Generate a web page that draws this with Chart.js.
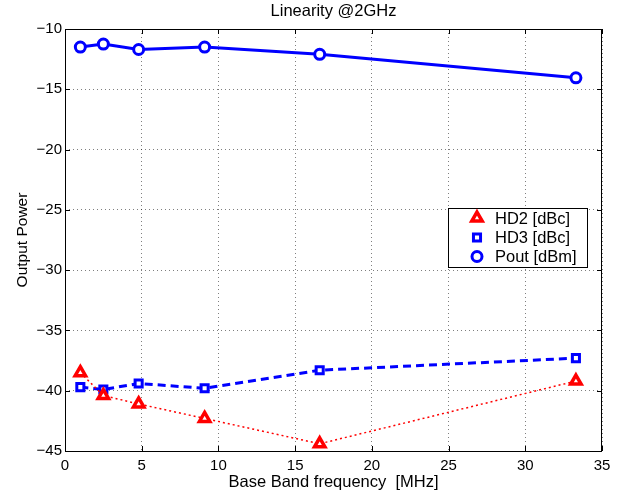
<!DOCTYPE html>
<html>
<head>
<meta charset="utf-8">
<script src="https://cdn.jsdelivr.net/npm/chart.js@4/dist/chart.umd.min.js"></script>
<style>
  html, body { margin: 0; padding: 0; background: #fff; }
  #wrap { width: 629px; height: 497px; }
</style>
</head>
<body>
<div id="wrap"><canvas id="chart" width="629" height="497"></canvas></div>
<script>
const freq = [1, 2.5, 4.8, 9.1, 16.6, 33.3];
const hd2 = [-38.5, -40.4, -41.1, -42.3, -44.4, -39.2];
const hd3 = [-39.7, -39.9, -39.4, -39.8, -38.3, -37.3];
const pout = [-11.5, -11.25, -11.7, -11.5, -12.1, -14.05];
const seriesNames = ['HD2 [dBc]', 'HD3 [dBc]', 'Pout [dBm]'];

const FONT = '"Liberation Sans", Arial, Helvetica, sans-serif';

const pts = (ys) => freq.map((x, i) => ({ x: x, y: ys[i] }));
const minus = (v) => String(v).replace('-', '\u2212');

// frame, inner ticks and the boxed legend (MATLAB style)
const matlabBits = {
  id: 'matlabBits',
  afterDraw(chart) {
    const { ctx, chartArea: a, scales } = chart;
    ctx.save();
    ctx.strokeStyle = '#000';
    ctx.lineWidth = 1;
    ctx.setLineDash([]);
    ctx.strokeRect(a.left + 0.5, a.top + 0.5, a.right - a.left - 1, a.bottom - a.top);
    const tl = 5;
    ctx.beginPath();
    scales.x.ticks.forEach((t) => {
      const px = Math.round(scales.x.getPixelForValue(t.value)) + 0.5;
      ctx.moveTo(px, a.bottom); ctx.lineTo(px, a.bottom - tl);
      ctx.moveTo(px, a.top); ctx.lineTo(px, a.top + tl);
    });
    scales.y.ticks.forEach((t) => {
      const py = Math.round(scales.y.getPixelForValue(t.value)) + 0.5;
      ctx.moveTo(a.left, py); ctx.lineTo(a.left + tl, py);
      ctx.moveTo(a.right, py); ctx.lineTo(a.right - tl, py);
    });
    ctx.stroke();

    // legend
    const bx = 448, by = 208, bw = 139, bh = 59;
    ctx.fillStyle = '#fff';
    ctx.fillRect(bx, by, bw, bh);
    ctx.strokeRect(bx + 0.5, by + 0.5, bw, bh);
    const rowY = [218, 237.5, 256.5];
    chart.data.datasets.forEach((ds, i) => {
      ctx.fillStyle = ds.pointBackgroundColor;
      ctx.strokeStyle = ds.pointBorderColor;
      ctx.lineWidth = ds.pointBorderWidth;
      Chart.helpers.drawPoint(ctx, {
        pointStyle: ds.pointStyle,
        radius: ds.pointRadius,
        rotation: 0,
        borderWidth: ds.pointBorderWidth
      }, 477, rowY[i]);
      ctx.fillStyle = '#000';
      ctx.font = '16.5px ' + FONT;
      ctx.textBaseline = 'middle';
      ctx.textAlign = 'left';
      ctx.fillText(ds.label, 495, rowY[i] + 1);
    });
    ctx.restore();
  }
};

new Chart(document.getElementById('chart'), {
  type: 'scatter',
  data: {
    datasets: [
      {
        label: seriesNames[0],
        data: pts(hd2),
        showLine: true,
        borderColor: '#ff0000',
        borderWidth: 1.5,
        borderDash: [2, 3],
        pointStyle: 'triangle',
        pointRadius: 6,
        pointBorderWidth: 3.5,
        pointBackgroundColor: '#ffffff',
        pointBorderColor: '#ff0000'
      },
      {
        label: seriesNames[1],
        data: pts(hd3),
        showLine: true,
        borderColor: '#0000ff',
        borderWidth: 3,
        borderDash: [8, 5],
        pointStyle: 'rect',
        pointRadius: 5,
        pointBorderWidth: 3,
        pointBackgroundColor: '#ffffff',
        pointBorderColor: '#0000ff'
      },
      {
        label: seriesNames[2],
        data: pts(pout),
        showLine: true,
        borderColor: '#0000ff',
        borderWidth: 3,
        pointStyle: 'circle',
        pointRadius: 5,
        pointBorderWidth: 3,
        pointBackgroundColor: '#ffffff',
        pointBorderColor: '#0000ff'
      }
    ]
  },
  options: {
    responsive: false,
    animation: false,
    layout: { padding: { top: 0, right: 27, bottom: 0, left: 0 } },
    plugins: {
      legend: { display: false },
      tooltip: { enabled: false },
      title: {
        display: true,
        text: 'Linearity @2GHz',
        fullSize: false,
        color: '#000',
        font: { family: FONT, size: 16.5, weight: 'normal' },
        padding: { top: 2, bottom: 7.2 }
      }
    },
    scales: {
      x: {
        type: 'linear',
        min: 0,
        max: 35,
        ticks: { stepSize: 5, color: '#000', padding: 6, font: { family: FONT, size: 15 } },
        grid: { color: 'rgba(0,0,0,0.5)', lineWidth: 1, drawTicks: false },
        border: { display: false, dash: [1, 3] },
        title: {
          display: true,
          text: 'Base Band frequency  [MHz]',
          color: '#000',
          font: { family: FONT, size: 16.5 },
          padding: { top: 0, bottom: 5 }
        },
        afterFit: (s) => { s.height = 46; }
      },
      y: {
        type: 'linear',
        min: -45,
        max: -10,
        ticks: {
          stepSize: 5,
          color: '#000',
          padding: 3,
          font: { family: FONT, size: 15 },
          callback: (v) => minus(v)
        },
        grid: { color: 'rgba(0,0,0,0.5)', lineWidth: 1, drawTicks: false },
        border: { display: false, dash: [1, 3] },
        title: {
          display: true,
          text: 'Output Power',
          color: '#000',
          font: { family: FONT, size: 15.5 },
          padding: { top: 13, bottom: 0 }
        },
        afterFit: (s) => { s.width = 65; }
      }
    }
  },
  plugins: [matlabBits]
});
</script>
</body>
</html>
